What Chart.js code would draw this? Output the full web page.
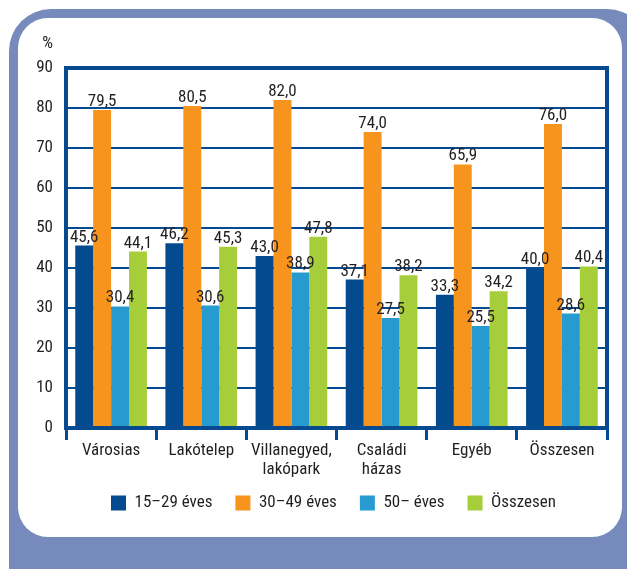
<!DOCTYPE html>
<html>
<head>
<meta charset="utf-8">
<script src="https://cdn.jsdelivr.net/npm/chart.js@4"></script>
<style>
    body { margin: 0; background: #fff; width: 627px; height: 569px; overflow: hidden; position: relative; }
    #outer { position: absolute; left: 9px; top: 9px; width: 640px; height: 620px; background: #768bbc; border-radius: 42px; }
    #panel { position: absolute; left: 18px; top: 18px; width: 604px; height: 519px; background: #fff; border-radius: 30px; }
    #chart { position: absolute; left: 0; top: 0; }
</style>
</head>
<body>
<div id="outer"></div>
<div id="panel"></div>
<canvas id="chart" width="627" height="569"></canvas>
<script>
const categories = ['Városias', 'Lakótelep', ['Villanegyed,', 'lakópark'], ['Családi', 'házas'], 'Egyéb', 'Összesen'];
const seriesNames = ['15–29 éves', '30–49 éves', '50– éves', 'Összesen'];
const young = [45.6, 46.2, 43.0, 37.1, 33.3, 40.0];
const middle = [79.5, 80.5, 82.0, 74.0, 65.9, 76.0];
const older = [30.4, 30.6, 38.9, 27.5, 25.5, 28.6];
const total = [44.1, 45.3, 47.8, 38.2, 34.2, 40.4];
const yTicks = [0, 10, 20, 30, 40, 50, 60, 70, 80, 90];

const colors = ['#034b8e', '#f7941e', '#279bd0', '#a6cd3a'];
const navy = '#064b8f';
const textColor = '#231f20';
const fontFamily = "'Roboto Condensed', 'Liberation Sans Narrow', sans-serif";

// keret, tengely feliratok, ertekek az oszlopok folott
const framePlugin = {
    id: 'frame',
    afterDatasetsDraw(chart) {
        const { ctx, chartArea: a } = chart;
        ctx.save();
        ctx.strokeStyle = navy;
        ctx.lineWidth = 4;
        ctx.strokeRect(a.left, a.top, a.right - a.left, a.bottom - a.top);

        ctx.fillStyle = textColor;
        ctx.font = `17px ${fontFamily}`;
        ctx.textAlign = 'center';
        ctx.textBaseline = 'alphabetic';
        chart.data.datasets.forEach((ds, i) => {
            chart.getDatasetMeta(i).data.forEach((bar, j) => {
                ctx.fillText(ds.data[j].toFixed(1).replace('.', ','), bar.x, bar.y - 4);
            });
        });

        const xs = chart.scales.x;
        chart.data.labels.forEach((lbl, i) => {
            const lines = Array.isArray(lbl) ? lbl : [lbl];
            const x = xs.getPixelForTick(i);
            lines.forEach((t, k) => ctx.fillText(t, x, a.bottom + 27 + k * 18.5));
        });

        const ys = chart.scales.y;
        ctx.textAlign = 'right';
        ctx.textBaseline = 'middle';
        yTicks.forEach(v => ctx.fillText(String(v), a.left - 13, ys.getPixelForValue(v)));
        ctx.fillText('%', a.left - 13, a.top - 24);
        ctx.restore();
    }
};

const datasets = [young, middle, older, total].map((d, i) => ({
    label: seriesNames[i],
    data: d,
    backgroundColor: colors[i],
    borderWidth: 0,
    barPercentage: 1,
    categoryPercentage: 0.795
}));

new Chart(document.getElementById('chart'), {
    type: 'bar',
    data: { labels: categories, datasets },
    options: {
        responsive: false,
        animation: false,
        layout: { padding: { left: 60, right: 20, top: 68, bottom: 47.5 } },
        plugins: {
            tooltip: { enabled: false },
            legend: {
                position: 'bottom',
                labels: {
                    boxWidth: 15,
                    boxHeight: 15,
                    padding: 23,
                    color: textColor,
                    font: { family: fontFamily, size: 17 }
                }
            }
        },
        scales: {
            x: {
                afterFit(scale) { scale.height = 43.5; },
                grid: { offset: true, drawOnChartArea: false, color: navy, lineWidth: 3, tickLength: 12 },
                border: { display: false },
                ticks: { display: false }
            },
            y: {
                min: 0,
                max: 90,
                afterFit(scale) { scale.width = 6; },
                afterBuildTicks(scale) { scale.ticks = yTicks.map(v => ({ value: v })); },
                grid: { color: navy, lineWidth: 2, drawTicks: false },
                border: { display: false },
                ticks: { display: false }
            }
        }
    },
    plugins: [framePlugin]
});
</script>
</body>
</html>
